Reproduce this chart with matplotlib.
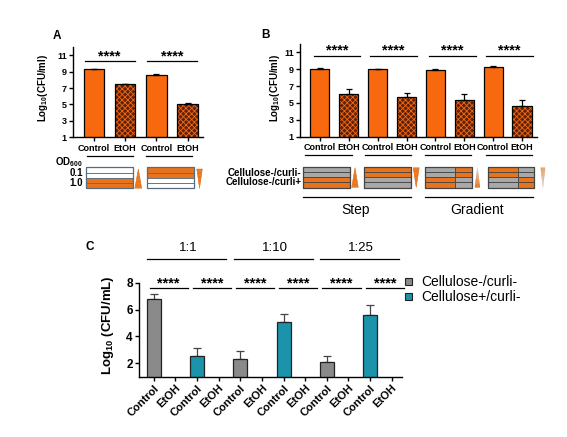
import numpy as np
import matplotlib.pyplot as plt
from matplotlib.patches import Rectangle, Polygon, Patch
from matplotlib.colors import to_rgb

plt.rcParams['font.family'] = ['Liberation Sans', 'DejaVu Sans']
plt.rcParams['mathtext.fontset'] = 'custom'
plt.rcParams['mathtext.rm'] = 'Liberation Sans:bold'
plt.rcParams['mathtext.default'] = 'rm'
plt.rcParams['hatch.linewidth'] = 0.6

orange = '#f7680f'
box_orange = '#e8731c'
brown = '#5e220a'
grey = '#8a8a8a'
teal = '#1b93aa'
box_grey = '#a8a8a8'
white = '#ffffff'

# panel A
a_labels = ['Control', 'EtOH', 'Control', 'EtOH']
a_vals = [9.29, 7.45, 8.6, 5.1]
a_err = [0.05, 0.05, 0.15, 0.14]
a_od = ['0.1', '1.0']

# panel B
b_labels = ['Control', 'EtOH'] * 4
b_vals = [9.05, 6.08, 9.0, 5.67, 8.95, 5.4, 9.22, 4.68]
b_err = [0.08, 0.6, 0.07, 0.55, 0.06, 0.7, 0.15, 0.68]
b_strains = ['Cellulose-/curli-', 'Cellulose-/curli+']
b_modes = ['Step', 'Gradient']

# panel C
c_labels = ['Control', 'EtOH'] * 6
c_vals = [6.75, 0, 2.55, 0, 2.35, 0, 5.08, 0, 2.1, 0, 5.58, 0]
c_err = [0.4, 0, 0.62, 0, 0.57, 0, 0.56, 0, 0.45, 0, 0.75, 0]
c_strains = ['Cellulose-/curli-', 'Cellulose+/curli-']
c_ratios = ['1:1', '1:10', '1:25']
sig = '****'


def style_ax(ax, fs):
    for s in ['top', 'right']:
        ax.spines[s].set_visible(False)
    for s in ['left', 'bottom']:
        ax.spines[s].set_linewidth(1.0)
    ax.tick_params(direction='out', length=3, width=1, pad=1.5, labelsize=fs)
    for t in ax.get_xticklabels() + ax.get_yticklabels():
        t.set_fontweight('bold')


def orange_bars(ax, vals, err):
    x = np.arange(len(vals))
    v = np.array(vals)
    ax.bar(x[::2], v[::2], width=0.66, color=orange, edgecolor='black', linewidth=0.9, zorder=2)
    ax.bar(x[1::2], v[1::2], width=0.66, color=brown, edgecolor=orange, hatch='xxxxxx', linewidth=0, zorder=2)
    ax.bar(x[1::2], v[1::2], width=0.66, fill=False, edgecolor='black', linewidth=0.9, zorder=3)
    ax.errorbar(x, v, yerr=[np.zeros(len(v)), err], fmt='none', ecolor='black',
                elinewidth=0.9, capsize=2.5, capthick=0.9, zorder=4)
    return x


def sig_lines(ax, starts, width, y, dy, fs):
    for s in starts:
        ax.plot([s, s + width], [y, y], color='black', lw=0.9, clip_on=False)
        ax.text(s + width / 2, y + dy, sig, ha='center', va='baseline', fontsize=fs,
                fontweight='bold', clip_on=False)


def under_lines(ax, starts, width, y, lw=0.9):
    tr = ax.get_xaxis_transform()
    for s in starts:
        ax.plot([s, s + width], [y, y], color='black', lw=lw, transform=tr, clip_on=False)


def layer_box(ax, x0, w, ytop, rh, left, right, split, edge):
    tr = ax.get_xaxis_transform()
    for i in range(len(left)):
        y = ytop - (i + 1) * rh
        ax.add_patch(Rectangle((x0, y), w * split, rh, transform=tr, facecolor=left[i],
                               edgecolor=edge, lw=0.6, clip_on=False))
        if split < 1:
            ax.add_patch(Rectangle((x0 + w * split, y), w * (1 - split), rh, transform=tr,
                                   facecolor=right[i], edgecolor=edge, lw=0.6, clip_on=False))
    ax.add_patch(Rectangle((x0, ytop - len(left) * rh), w, len(left) * rh, transform=tr,
                           fill=False, edgecolor=edge, lw=0.9, clip_on=False))


def triangle(ax, x0, x1, ytop, ybot, up, c_top, c_bot, n=24):
    tr = ax.get_xaxis_transform()
    xm = (x0 + x1) / 2
    ct, cb = np.array(to_rgb(c_top)), np.array(to_rgb(c_bot))
    for k in range(n):
        f0, f1 = k / n, (k + 1) / n
        ya = ytop + (ybot - ytop) * f0
        yb = ytop + (ybot - ytop) * f1
        h0 = (x1 - x0) / 2 * (f0 if up else 1 - f0)
        h1 = (x1 - x0) / 2 * (f1 if up else 1 - f1)
        col = ct + (cb - ct) * (f0 + f1) / 2
        ax.add_patch(Polygon([(xm - h0, ya), (xm + h0, ya), (xm + h1, yb), (xm - h1, yb)],
                             transform=tr, facecolor=col, edgecolor=col, lw=0.3, clip_on=False))


fig = plt.figure(figsize=(5.67, 4.37), dpi=100)

# ---------------- A
axA = fig.add_axes([0.1287, 0.6858, 0.2293, 0.2066])
x = orange_bars(axA, a_vals, a_err)
axA.set_xlim(-0.67, 3.49)
axA.set_ylim(1, 12)
axA.set_yticks([1, 3, 5, 7, 9, 11])
axA.set_xticks(x)
axA.set_xticklabels(a_labels)
style_ax(axA, 6.5)
axA.set_ylabel('Log$_{10}$(CFU/ml)', fontsize=7, fontweight='bold')
axA.yaxis.set_label_coords(-0.18, 0.55)
sig_lines(axA, [-0.3, 1.7], 1.6, 10.27, 0.1, 10.5)
under_lines(axA, [-0.23, 1.68], 1.47, -0.207)
rowsA = [[white, white, box_orange, box_orange], [box_orange, box_orange, white, white]]
for x0, rows in zip([-0.26, 1.71], rowsA):
    layer_box(axA, x0, 1.5, -0.332, 0.058, rows, rows, 1.0, '#566d80')
triangle(axA, 1.31, 1.53, -0.351, -0.565, True, box_orange, box_orange)
triangle(axA, 3.29, 3.47, -0.351, -0.565, False, box_orange, box_orange)
trA = axA.get_xaxis_transform()
axA.text(-0.35, -0.28, 'OD$_{600}$', transform=trA, ha='right', va='center',
         fontsize=7, fontweight='bold')
for yy, lab in zip([-0.399, -0.51], a_od):
    axA.text(-0.36, yy, lab, transform=trA, ha='right', va='center', fontsize=7, fontweight='bold')

# ---------------- B
axB = fig.add_axes([0.5291, 0.6872, 0.418, 0.2121])
x = orange_bars(axB, b_vals, b_err)
axB.set_xlim(-0.69, 7.52)
axB.set_ylim(1, 12)
axB.set_yticks([1, 3, 5, 7, 9, 11])
axB.set_xticks(x)
axB.set_xticklabels(b_labels)
style_ax(axB, 6.5)
axB.set_ylabel('Log$_{10}$(CFU/ml)', fontsize=7, fontweight='bold')
axB.yaxis.set_label_coords(-0.077, 0.53)
sig_lines(axB, [-0.22, 1.73, 3.78, 5.76], 1.62, 10.58, 0.12, 10.5)
under_lines(axB, [-0.5, 1.57, 3.64, 5.75], 1.6, -0.197)
o, g = box_orange, box_grey
left_rows = [[g, g, o, o], [o, o, g, g], [g, g, o, o], [o, o, g, g]]
right_rows = [[g, g, o, o], [o, o, g, g], [o, o, g, g], [g, g, o, o]]
splits = [1.0, 1.0, 0.64, 0.64]
for x0, lr, rr, sp in zip([-0.58, 1.53, 3.64, 5.81], left_rows, right_rows, splits):
    layer_box(axB, x0, 1.62, -0.324, 0.0566, lr, rr, sp, '#444444')
triangle(axB, 1.10, 1.33, -0.335, -0.547, True, box_orange, box_orange)
triangle(axB, 3.23, 3.44, -0.335, -0.547, False, box_orange, box_orange)
triangle(axB, 5.37, 5.54, -0.335, -0.547, True, '#d8d8d8', box_orange)
triangle(axB, 7.65, 7.80, -0.335, -0.547, False, '#e9a060', '#d8d8d8')
trB = axB.get_xaxis_transform()
for yy, lab in zip([-0.39, -0.49], b_strains):
    axB.text(-0.64, yy, lab, transform=trB, ha='right', va='center', fontsize=7, fontweight='bold')
axB.plot([-0.6, 3.14], [-0.654, -0.654], color='black', lw=0.9, transform=trB, clip_on=False)
axB.plot([3.64, 7.38], [-0.654, -0.654], color='black', lw=0.9, transform=trB, clip_on=False)
for xx, lab in zip([1.24, 5.44], b_modes):
    axB.text(xx, -0.79, lab, transform=trB, ha='center', va='center', fontsize=10)

# ---------------- C
axC = fig.add_axes([0.2451, 0.138, 0.4638, 0.2151])
xc = np.arange(len(c_vals))
pair_cols = [grey, teal] * 3
c_cols = [pair_cols[i // 2] for i in xc]
axC.bar(xc, c_vals, width=0.65, color=c_cols, edgecolor='#222222', linewidth=0.9, zorder=2)
axC.errorbar(xc, c_vals, yerr=[np.zeros(len(c_vals)), c_err], fmt='none', ecolor='#444444',
             elinewidth=0.9, capsize=3, capthick=0.9, zorder=1)
axC.set_xlim(-0.69, 11.48)
axC.set_ylim(1, 8)
axC.set_yticks([2, 4, 6, 8])
axC.set_xticks(xc)
axC.set_xticklabels(c_labels, rotation=45, ha='right', rotation_mode='anchor')
style_ax(axC, 8)
axC.tick_params(axis='y', labelsize=8.5)
axC.set_ylabel('Log$_{10}$ (CFU/mL)', fontsize=9.5, fontweight='bold')
axC.yaxis.set_label_coords(-0.0875, 0.545)
sig_lines(axC, xc[::2] - 0.2, 1.77, 7.6, 0.06, 10.5)
for k, lab in enumerate(c_ratios):
    axC.plot([4 * k - 0.3, 4 * k + 3.35], [9.77, 9.77], color='black', lw=0.9, clip_on=False)
    axC.text(4 * k + 1.6, 10.59, lab, ha='center', va='center', fontsize=9.5, clip_on=False)

handles = [Patch(facecolor=grey, edgecolor='#222222', lw=0.8),
           Patch(facecolor=teal, edgecolor='#222222', lw=0.8)]
fig.legend(handles, c_strains, loc='upper left', bbox_to_anchor=(0.714, 0.37), frameon=False,
           fontsize=10, handlelength=0.55, handleheight=0.4, handletextpad=0.6,
           labelspacing=0.05, borderpad=0, borderaxespad=0)

for lab, xx, yy in [('A', 0.1005, 0.9176), ('B', 0.469, 0.92), ('C', 0.1587, 0.4348)]:
    fig.text(xx, yy, lab, ha='center', va='center', fontsize=8.5, fontweight='bold')

fig.savefig('out.png', dpi=100)
